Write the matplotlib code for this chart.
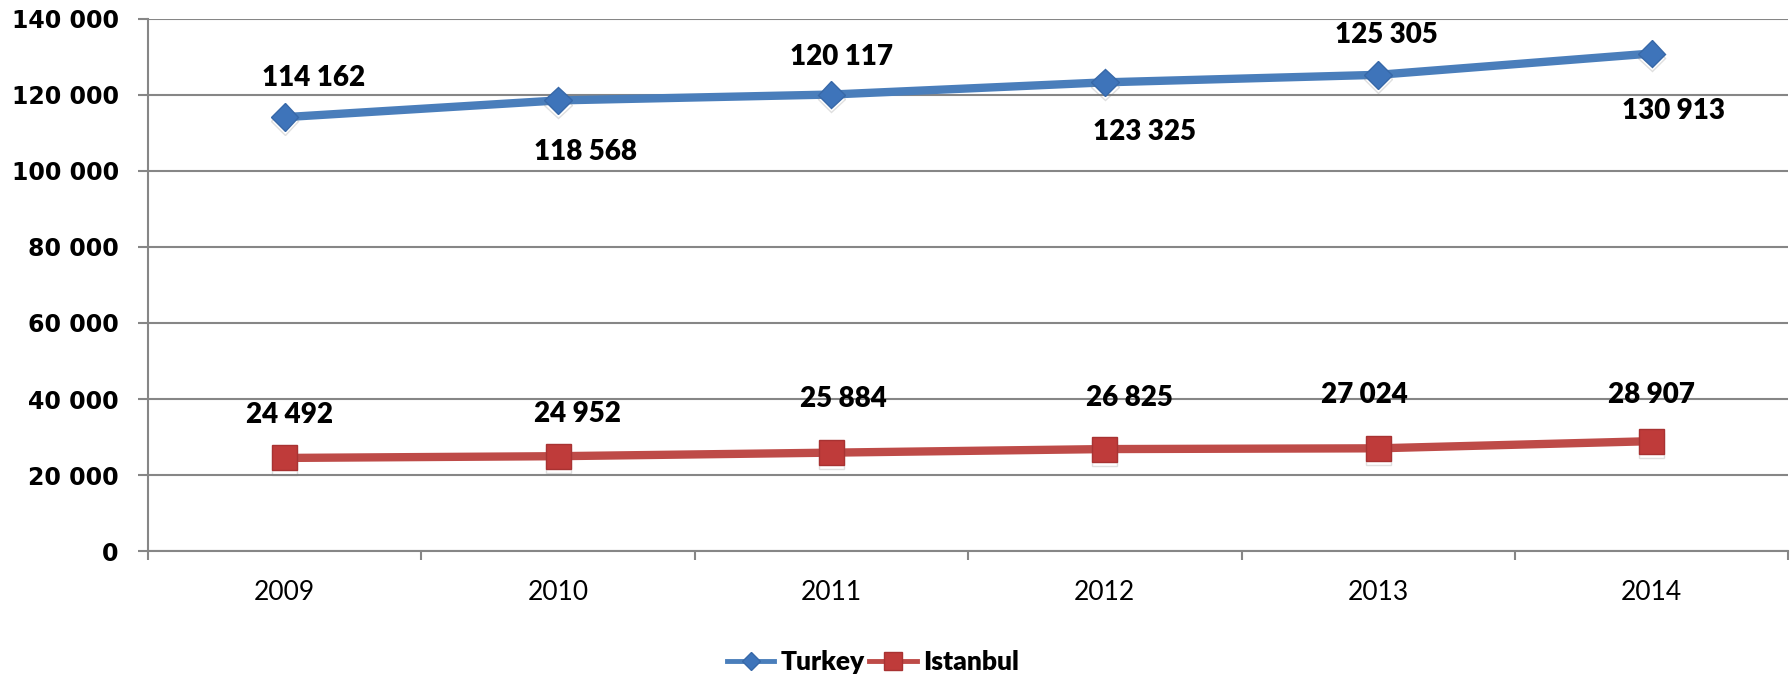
import matplotlib
matplotlib.use("Agg")
import matplotlib.pyplot as plt
from matplotlib.lines import Line2D
import matplotlib.patheffects as pe

# ---- data ----
years = ["2009", "2010", "2011", "2012", "2013", "2014"]
turkey = [114162, 118568, 120117, 123325, 125305, 130913]
istanbul = [24492, 24952, 25884, 26825, 27024, 28907]
series_names = ["Turkey", "Istanbul"]
y_ticks = [0, 20000, 40000, 60000, 80000, 100000, 120000, 140000]

# ---- label placement (style: offsets in pixels, +dy = downwards) ----
turkey_lbl_off = [(29, -41), (27, 50), (10, -40), (40, 48), (8, -42), (22, 55)]
istanbul_lbl_off = [(5, -45), (19, -44), (12, -56), (25, -53), (-14, -55), (0, -48)]

def fmt(v):
    return f"{v:,}".replace(",", " ")

BLUE_LINE = "#4A7EBB"
BLUE_MK = "#3E74BA"
RED_LINE = "#BE4B48"
RED_MK = "#BF3B3A"
GRID = "#868686"

fig = plt.figure(figsize=(17.91, 6.85), dpi=100)
ax = fig.add_axes([0.0826, 0.1956, 0.9985 - 0.0826, 0.9723 - 0.1956])

x = list(range(len(years)))
shadow = [pe.SimpleLineShadow(offset=(0, -3), shadow_color="gray", alpha=0.25), pe.Normal()]

ax.plot(x, turkey, color=BLUE_LINE, lw=6, solid_capstyle="butt", zorder=3)
ax.plot(x, turkey, ls="none", marker="D", ms=14, mfc=BLUE_MK, mec="#3768A8", mew=1,
        zorder=4, path_effects=shadow)
ax.plot(x, istanbul, color=RED_LINE, lw=6, solid_capstyle="butt", zorder=3)
ax.plot(x, istanbul, ls="none", marker="s", ms=18, mfc=RED_MK, mec="#A83232", mew=1,
        zorder=4, path_effects=shadow)

lbl_font = dict(family="Lato", fontsize=20, fontweight="heavy", color="black")
for i, v in enumerate(turkey):
    dx, dy = turkey_lbl_off[i]
    ax.annotate(fmt(v), (i, v), xytext=(dx, -(dy + 10)), textcoords="offset pixels",
                ha="center", va="baseline", zorder=5, **lbl_font)
for i, v in enumerate(istanbul):
    dx, dy = istanbul_lbl_off[i]
    ax.annotate(fmt(v), (i, v), xytext=(dx, -(dy + 10)), textcoords="offset pixels",
                ha="center", va="baseline", zorder=5, **lbl_font)

ax.set_xlim(-0.5, len(years) - 0.5)
ax.set_ylim(0, 140000)
ax.set_yticks(y_ticks)
ax.set_yticklabels([fmt(t) for t in y_ticks], family="DejaVu Sans", fontweight="bold",
                   fontsize=17)
ax.set_xticks(x)
ax.set_xticklabels(years, family="Lato", fontsize=19)
ax.set_xticks([i - 0.5 for i in range(len(years) + 1)], minor=True)

ax.tick_params(axis="x", which="major", length=0, pad=21)
ax.tick_params(axis="x", which="minor", length=6.5, width=1.5, color=GRID)
ax.tick_params(axis="y", which="major", length=7, width=1.5, color=GRID, pad=14)

ax.yaxis.grid(True, color=GRID, lw=1.5)
ax.set_axisbelow(True)
for s in ("top", "right"):
    ax.spines[s].set_visible(False)
for s in ("left", "bottom"):
    ax.spines[s].set_color(GRID)
    ax.spines[s].set_linewidth(1.5)

handles = [
    Line2D([], [], color=BLUE_LINE, lw=3.5, marker="D", ms=9, mfc=BLUE_MK, mec="#3768A8"),
    Line2D([], [], color=RED_LINE, lw=3.5, marker="s", ms=13, mfc=RED_MK, mec="#A83232"),
]
fig.legend(handles, series_names, loc="center", bbox_to_anchor=(0.4874, 0.0336), ncol=2,
           frameon=False, prop=dict(family="Lato", weight="heavy", size=19),
           handlelength=1.8, handletextpad=0.25, columnspacing=0.15)

fig.savefig("out.png", dpi=100, facecolor="white")
